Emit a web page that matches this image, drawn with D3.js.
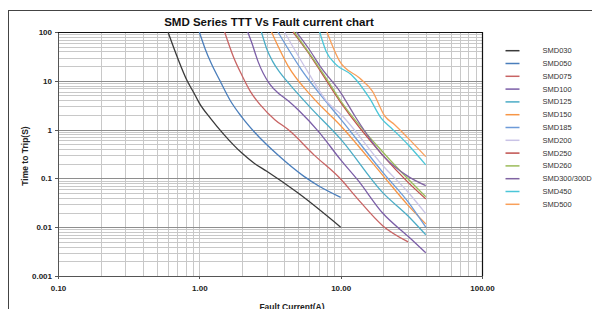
<!DOCTYPE html>
<meta charset="utf-8">
<style>
  html, body { margin: 0; padding: 0; background: #fff; }
  svg { display: block; font-family: "Liberation Sans", Arial, sans-serif; }
  .grid line { stroke: #c8c8c8; stroke-width: 1px; shape-rendering: crispEdges; }
  .grid line.major { stroke: #8e8e8e; }
  .axis text { font-size: 8px; font-weight: bold; fill: #222; }
  .axis path, .axis line { stroke: #555; shape-rendering: crispEdges; }
  .legend text { font-size: 7.5px; fill: #333; }
</style>
<body>
</body>
<script src="https://cdn.jsdelivr.net/npm/d3@7"></script>
<script>

  // series names, same order as the legend
  var names = ["SMD030", "SMD050", "SMD075", "SMD100", "SMD125", "SMD150", "SMD185",
               "SMD200", "SMD250", "SMD260", "SMD300/300D", "SMD450", "SMD500"];

  // [fault current (A), time to trip (s)]
  var smd030 = [[0.6, 100], [0.7, 30], [0.82, 10], [0.92, 5.5], [1.0, 3.5], [1.2, 1.7], [1.5, 0.78], [2.0, 0.33], [2.47, 0.2], [3.0, 0.14], [5.0, 0.05], [10, 0.01]];
  var smd050 = [[1.0, 100], [1.1, 45], [1.22, 22], [1.4, 10], [1.65, 4], [2.0, 1.8], [2.47, 0.87], [3.7, 0.28], [5.5, 0.11], [7, 0.07], [10, 0.041]];
  var smd075 = [[1.51, 100], [1.75, 30], [2.0, 13], [2.3, 6], [2.7, 3.2], [3.42, 1.6], [4.25, 1.0], [6.5, 0.3], [10, 0.097], [13, 0.04], [20, 0.0105], [30, 0.005]];
  var smd100 = [[2.2, 100], [2.35, 60], [2.6, 25], [3.15, 8.5], [3.7, 5.3], [4.25, 3.9], [5.1, 2.4], [7, 0.9], [10, 0.24], [13.2, 0.093], [19.8, 0.0195], [30, 0.0065], [40, 0.003]];
  var smd125 = [[2.75, 100], [3.0, 45], [3.3, 25], [3.7, 15], [4.25, 9.2], [6, 3], [10, 0.64], [20, 0.05], [30, 0.017], [40, 0.007]];
  var smd150 = [[3.24, 100], [4.25, 20], [6.2, 4.9], [10, 1.2], [20, 0.113], [30, 0.028], [40, 0.0117]];
  var smd185 = [[3.6, 100], [5.27, 17], [7.3, 4.9], [10, 1.64], [20, 0.13], [30, 0.033], [40, 0.01]];
  var smd200 = [[4.0, 100], [5.9, 14.7], [8.1, 3.6], [10, 2.07], [20, 0.18], [30, 0.052], [40, 0.019]];
  var smd250 = [[4.6, 100], [5.9, 37.8], [7.3, 14.7], [10, 3.6], [20, 0.29], [30, 0.083], [40, 0.038]];
  var smd260 = [[4.7, 100], [6.2, 32], [7.7, 12.6], [10, 3.9], [20, 0.34], [30, 0.097], [40, 0.042]];
  var smd300 = [[4.86, 100], [5.9, 47], [7.3, 18.3], [10, 5.75], [12.6, 1.9], [20, 0.29], [30, 0.11], [40, 0.071]];
  var smd450 = [[7.1, 100], [7.9, 40], [9.2, 22], [11.9, 13.3], [16, 4.4], [19.4, 1.7], [22.8, 1.08], [30, 0.49], [40, 0.19]];
  var smd500 = [[8.0, 100], [9.85, 25], [13.6, 11.4], [16.8, 6.1], [20.5, 1.9], [24.1, 1.26], [30, 0.67], [40, 0.28]];

  var series = [smd030, smd050, smd075, smd100, smd125, smd150, smd185,
                smd200, smd250, smd260, smd300, smd450, smd500];

  var colors = ["#3a3a3a", "#4a7ebb", "#c86464", "#7b5ea7", "#4bacc6", "#f79646", "#6d9bd8",
                "#c9c3e6", "#c0504d", "#9bbb59", "#8064a2", "#4bc6d8", "#f9a05a"];

  var yTicks = [0.001, 0.01, 0.1, 1, 10, 100];
  var xTicks = [0.1, 1, 10, 100];

  var width = 592, height = 309;
  var plot = {left: 58, right: 482, top: 32, bottom: 276};

  var svg = d3.select("body").append("svg")
      .attr("width", width)
      .attr("height", height);

  // outer chart frame
  svg.append("rect")
      .attr("x", 8.5).attr("y", 10.5)
      .attr("width", 600).attr("height", 320)
      .attr("fill", "#fff")
      .attr("stroke", "#444");

  var x = d3.scaleLog().domain([0.1, 100]).range([plot.left, plot.right]);
  var y = d3.scaleLog().domain([0.001, 100]).range([plot.bottom, plot.top]);

  /* grid */
  var grid = svg.append("g").attr("class", "grid");
  var isMajor = v => Math.abs(Math.log10(v) - Math.round(Math.log10(v))) < 1e-9;

  grid.selectAll(".v")
      .data(x.ticks().filter(v => v > 0.1 && v < 100))
      .enter().append("line")
      .attr("class", "v")
      .attr("x1", d => Math.round(x(d)) + 0.5).attr("x2", d => Math.round(x(d)) + 0.5)
      .attr("y1", plot.top).attr("y2", plot.bottom);

  grid.selectAll(".h")
      .data(y.ticks().filter(v => v > 0.001 && v < 100))
      .enter().append("line")
      .attr("class", d => isMajor(d) ? "h major" : "h")
      .attr("x1", plot.left).attr("x2", plot.right)
      .attr("y1", d => Math.round(y(d)) + 0.5).attr("y2", d => Math.round(y(d)) + 0.5);

  /* axes */
  svg.append("g")
      .attr("class", "axis")
      .attr("transform", "translate(" + plot.left + ",0)")
      .call(d3.axisLeft(y).tickValues(yTicks).tickSize(3).tickPadding(3)
            .tickFormat(d => d >= 1 ? d3.format("d")(d) : String(d)));

  svg.append("g")
      .attr("class", "axis")
      .attr("transform", "translate(0," + plot.bottom + ")")
      .call(d3.axisBottom(x).tickValues(xTicks).tickSize(3).tickPadding(6)
            .tickFormat(d3.format(".2f")));

  // plot top / right border
  svg.append("path")
      .attr("d", "M" + plot.left + "," + (plot.top + 0.5) + "H" + (plot.right + 0.5) + "V" + plot.bottom)
      .attr("fill", "none")
      .attr("stroke", "#111")
      .attr("stroke-width", 1.2);

  /* curves */
  var line = d3.line()
      .x(d => x(d[0]))
      .y(d => y(d[1]))
      .curve(d3.curveMonotoneX);

  svg.append("g").selectAll("path")
      .data(series)
      .enter().append("path")
      .attr("d", line)
      .attr("fill", "none")
      .attr("stroke", (d, i) => colors[i])
      .attr("stroke-width", 1.3);

  /* titles */
  svg.append("text")
      .attr("x", 269).attr("y", 26)
      .attr("text-anchor", "middle")
      .style("font-size", "11.5px")
      .style("font-weight", "bold")
      .attr("fill", "#111")
      .text("SMD Series TTT Vs Fault current chart");

  svg.append("text")
      .attr("transform", "translate(28,156) rotate(-90)")
      .attr("text-anchor", "middle")
      .style("font-size", "8.5px")
      .style("font-weight", "bold")
      .attr("fill", "#222")
      .text("Time to Trip(S)");

  // sits on the bottom edge, as in the original
  svg.append("text")
      .attr("x", 292).attr("y", 310)
      .attr("text-anchor", "middle")
      .style("font-size", "8.5px")
      .style("font-weight", "bold")
      .attr("fill", "#222")
      .text("Fault Current(A)");

  /* legend */
  var legend = svg.append("g").attr("class", "legend");
  var row = legend.selectAll("g")
      .data(names)
      .enter().append("g")
      .attr("transform", (d, i) => "translate(0," + (50.7 + i * 12.8) + ")");

  row.append("line")
      .attr("x1", 505.5).attr("x2", 519.5)
      .attr("stroke", (d, i) => colors[i])
      .attr("stroke-width", 1.5);

  row.append("text")
      .attr("x", 542.5)
      .attr("dy", "0.33em")
      .text(d => d);

</script>
